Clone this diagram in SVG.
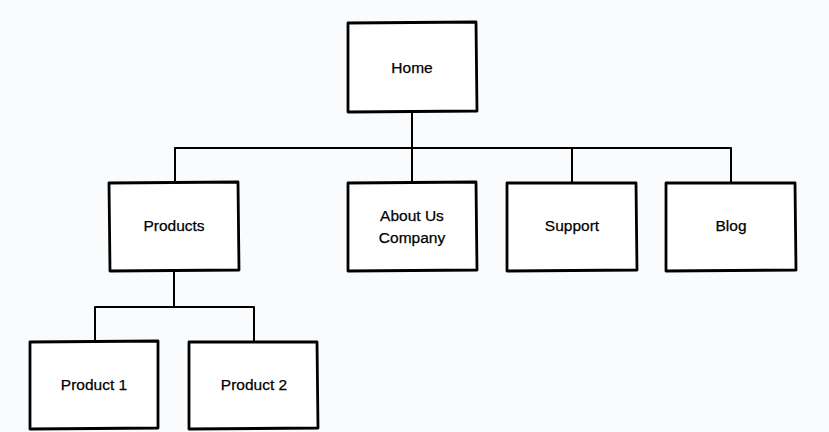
<svg xmlns="http://www.w3.org/2000/svg" width="829" height="432" viewBox="0 0 829 432">
<style>
.box{fill:#ffffff;stroke:#000000;stroke-width:2.8;stroke-linejoin:round;stroke-linecap:round}
.conn{fill:none;stroke:#000000;stroke-width:2;stroke-linecap:round}
.lbl{font-family:"Liberation Sans",Arial,sans-serif;font-size:15.5px;fill:#000000;text-anchor:middle;stroke:#000000;stroke-width:0.25}
</style>
<rect width="829" height="432" fill="#f9fbfd"/>
<g id="connectors">
<path class="conn" d="M412 112 V148 M175 148 H731 M175 148 V183 M412 148 V183 M572 148 V183 M731 148 V183"/>
<path class="conn" d="M174 270 V307 M95 307 H254 M95 307 V342 M254 307 V342"/>
</g>
<g id="home">
<path class="box" d="M348 23 L476 22 L477 111 L348 112 Z"/>
<text class="lbl" x="412" y="73">Home</text>
</g>
<g id="products">
<path class="box" d="M109 183 L238 182 L239 270 L110 271 Z"/>
<text class="lbl" x="174" y="231">Products</text>
</g>
<g id="about">
<path class="box" d="M348 183 L476 182 L477 270 L348 271 Z"/>
<text class="lbl" x="412" y="221">About Us</text>
<text class="lbl" x="412" y="243">Company</text>
</g>
<g id="support">
<path class="box" d="M507 183 L636 183 L637 270 L507 271 Z"/>
<text class="lbl" x="572" y="231">Support</text>
</g>
<g id="blog">
<path class="box" d="M666 183 L795 183 L796 270 L666 271 Z"/>
<text class="lbl" x="731" y="231">Blog</text>
</g>
<g id="product1">
<path class="box" d="M30 342 L158 341 L158 428 L30 429 Z"/>
<text class="lbl" x="94" y="390">Product 1</text>
</g>
<g id="product2">
<path class="box" d="M189 342 L317 342 L318 428 L189 429 Z"/>
<text class="lbl" x="254" y="390">Product 2</text>
</g>
</svg>
